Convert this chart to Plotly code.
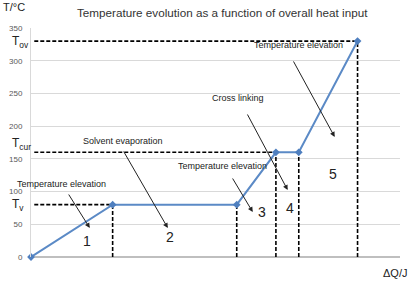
import plotly.graph_objects as go

# Data
heat_input = [0, 25, 63, 75, 82, 100]          # ΔQ (arbitrary units, no tick labels)
temperature = [0, 80, 80, 160, 160, 330]        # T / °C
T_v, T_cur, T_ov = 80, 160, 330
y_ticks = [0, 50, 100, 150, 200, 250, 300, 350]

stage_labels = ["Temperature elevation", "Solvent evaporation", "Temperature elevation",
                "Cross linking", "Temperature elevation"]
stage_numbers = ["1", "2", "3", "4", "5"]

FONT = "Liberation Sans, Arial, sans-serif"

fig = go.Figure()

# Dashed reference lines built from the data points
for i in [1, 2, 3, 4, 5]:
    fig.add_trace(go.Scatter(x=[heat_input[i], heat_input[i]], y=[0, temperature[i]],
                             mode="lines", line=dict(color="black", width=1.6, dash="4px,2px"),
                             hoverinfo="skip", showlegend=False, cliponaxis=False))
for i in [1, 3, 5]:
    fig.add_trace(go.Scatter(x=[1, heat_input[i]], y=[temperature[i], temperature[i]],
                             mode="lines", line=dict(color="black", width=1.6, dash="4px,2px"),
                             hoverinfo="skip", showlegend=False, cliponaxis=False))

# Main curve
fig.add_trace(go.Scatter(x=heat_input, y=temperature, mode="lines+markers",
                         line=dict(color="#5B8AC6", width=2),
                         marker=dict(symbol="diamond", size=6, color="#4F7FBF"),
                         showlegend=False, cliponaxis=False))

# Arrow annotations (head in data coords, tail offset in px)
arrows = [
    (18.0, 44.3, -22, -35),
    (41.9, 44.3, -45, -78),
    (67.9, 68.8, -21, -35),
    (78.6, 102.4, -41, -77),
    (93.0, 183.5, -42, -77),
]
for hx, hy, dx, dy in arrows:
    fig.add_annotation(x=hx, y=hy, ax=dx, ay=dy, text="", showarrow=True,
                       arrowhead=2, arrowsize=1, arrowwidth=1, arrowcolor="#222")

label_pos = [(9.2, 112), (28.1, 177), (58.7, 139), (63.3, 243), (82.0, 324)]
for txt, (lx, ly) in zip(stage_labels, label_pos):
    fig.add_annotation(x=lx, y=ly, text=txt, showarrow=False,
                       font=dict(family=FONT, size=9, color="#222"))

num_pos = [(17.1, 24.5), (42.5, 30.6), (70.6, 68.8), (79.2, 75), (92.4, 127)]
for txt, (nx, ny) in zip(stage_numbers, num_pos):
    fig.add_annotation(x=nx, y=ny, text=txt, showarrow=False,
                       font=dict(family=FONT, size=14, color="#222"))

# Temperature markers on the left
for txt, val, ys in [("T<sub>ov</sub>", T_ov, -1), ("T<sub>cur</sub>", T_cur, 8), ("T<sub>v</sub>", T_v, 0)]:
    fig.add_annotation(xref="paper", x=-0.058, y=val, yshift=ys, yanchor="middle", text=txt,
                       showarrow=False, xanchor="left", font=dict(family=FONT, size=12, color="#222"))

# Axis titles and chart title
fig.add_annotation(xref="paper", yref="paper", x=-0.081, y=1.092, yanchor="middle", text="T/°C",
                   showarrow=False, xanchor="left", font=dict(family=FONT, size=11, color="#222"))
fig.add_annotation(xref="paper", yref="paper", x=1.025, y=-0.07, yanchor="middle", text="ΔQ/J",
                   showarrow=False, xanchor="right", font=dict(family=FONT, size=11, color="#222"))
fig.add_annotation(xref="paper", yref="paper", x=0.52, y=1.069, yanchor="middle",
                   text="Temperature evolution as a function of overall heat input",
                   showarrow=False, font=dict(family=FONT, size=11.7, color="#333"))

fig.update_layout(
    width=410, height=281,
    margin=dict(l=31, r=10, t=28, b=24),
    paper_bgcolor="white", plot_bgcolor="white",
    font=dict(family=FONT),
    xaxis=dict(range=[0, 113], showticklabels=False, showgrid=False, zeroline=False,
               showline=False, fixedrange=True),
    yaxis=dict(range=[0, 350], tickvals=y_ticks, showgrid=True, gridcolor="#D9D9D9", gridwidth=1,
               zeroline=True, zerolinecolor="#BFBFBF", zerolinewidth=2,
               showline=True, linecolor="#D9D9D9", linewidth=1,
               tickfont=dict(family=FONT, size=8, color="#595959"), ticks="", ticklabelstandoff=6),
)

fig.write_html("out.html")
